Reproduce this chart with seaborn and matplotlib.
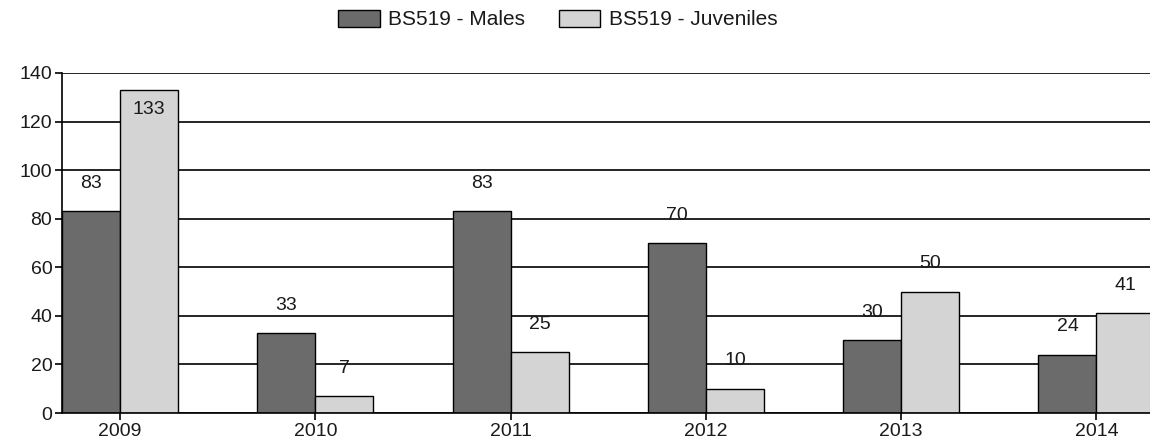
import matplotlib
matplotlib.use("Agg")
import matplotlib.pyplot as plt
import seaborn as sns
import pandas as pd

years = ["2009", "2010", "2011", "2012", "2013", "2014"]
males = [83, 33, 83, 70, 30, 24]
juveniles = [133, 7, 25, 10, 50, 41]
series_names = ["BS519 - Males", "BS519 - Juveniles"]
y_ticks = [0, 20, 40, 60, 80, 100, 120, 140]

df = pd.DataFrame({
    "year": years * 2,
    "count": males + juveniles,
    "series": [series_names[0]] * len(years) + [series_names[1]] * len(years),
})

sns.set_style("white")
plt.rcParams["font.family"] = ["Liberation Sans", "DejaVu Sans"]
plt.rcParams["font.size"] = 14

fig = plt.figure(figsize=(11.5, 4.44), dpi=100)
ax = fig.add_axes([0.0539, 0.0698, 0.9461, 0.7658])

palette = {series_names[0]: "#6b6b6b", series_names[1]: "#d4d4d4"}
sns.barplot(data=df, x="year", y="count", hue="series", order=years,
            hue_order=series_names, palette=palette, width=0.594, gap=0,
            edgecolor="black", linewidth=1.0, saturation=1, ax=ax,
            legend=True)

ax.set_ylim(0, 140)
ax.set_yticks(y_ticks)
ax.set_xlim(-0.297, 5.274)
ax.set_xlabel("")
ax.set_ylabel("")

ax.yaxis.grid(True, color="black", linewidth=1.2)
ax.xaxis.grid(False)
ax.set_axisbelow(True)

for side in ["top", "right"]:
    ax.spines[side].set_visible(False)
for side in ["left", "bottom"]:
    ax.spines[side].set_color("black")
    ax.spines[side].set_linewidth(1.2)

ax.tick_params(axis="both", which="both", direction="out", length=5,
               width=1.2, color="black", labelsize=14, labelcolor="#1a1a1a",
               left=True, bottom=True, pad=2)

# value labels above each bar (inside when the bar reaches the top)
for container in ax.containers:
    for bar in container:
        h = bar.get_height()
        x = bar.get_x() + bar.get_width() / 2
        off = -14 if h > 125 else 20
        ax.annotate(f"{int(round(h))}", (x, h), xytext=(0, off),
                    textcoords="offset points", ha="center", va="center",
                    fontsize=14, color="#1a1a1a")

handles, labels = ax.get_legend_handles_labels()
ax.legend_.remove()
fig.legend(handles, labels, loc="center", bbox_to_anchor=(0.485, 0.956),
           ncol=2, frameon=False, fontsize=15, handlelength=2.0,
           handleheight=0.9, columnspacing=1.6, handletextpad=0.4,
           labelcolor="#1a1a1a")

fig.savefig("out.png", dpi=100)
